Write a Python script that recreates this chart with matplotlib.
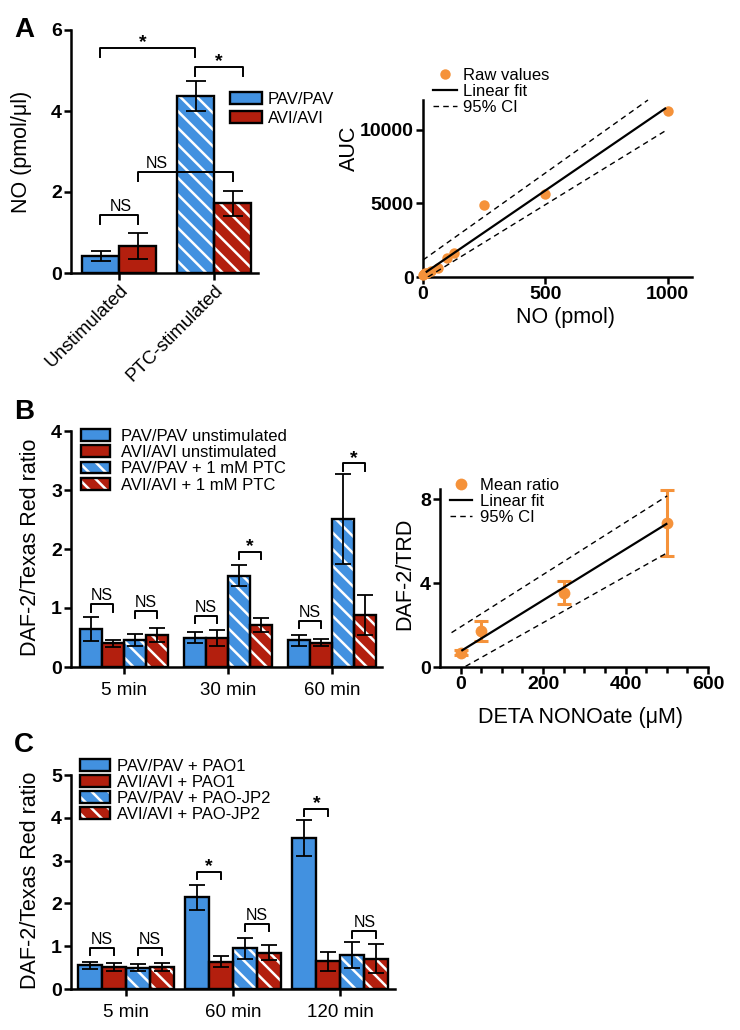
import numpy as np
import matplotlib
matplotlib.use("Agg")
import matplotlib.pyplot as plt
from matplotlib.patches import Patch
from matplotlib.lines import Line2D
from matplotlib.legend_handler import HandlerTuple

plt.rcParams['font.family'] = ['Liberation Sans', 'DejaVu Sans']
plt.rcParams['hatch.linewidth'] = 1.8

BLUE = "#4291e0"
RED = "#b31f0e"
ORANGE = "#f5923a"
HATCH = "\\\\"

# ---------------- data ----------------
# A, bars
a_groups = ["Unstimulated", "PTC-stimulated"]
a_pav = [0.42, 4.37]
a_pav_err = [0.13, 0.37]
a_avi = [0.67, 1.72]
a_avi_err = [0.32, 0.31]
# (x start, x end, height, label, label x)
a_brackets = [(-0.2, 0.8, 5.56, "*", 0.25), (0.8, 1.3, 5.09, "*", 1.05),
              (0.2, 1.2, 2.49, "NS", 0.39), (-0.2, 0.2, 1.43, "NS", 0.02)]

# A, standard curve
no_pmol = [0, 4, 8, 16, 31, 62, 100, 125, 250, 500, 1000]
auc = [120, 180, 250, 300, 420, 600, 1300, 1650, 4900, 5600, 11250]
a_fit_x = [15, 990]
a_fit_y = [360, 11420]
a_ci_up_x = [0, 920]
a_ci_up_y = [1150, 12000]
a_ci_lo_x = [20, 990]
a_ci_lo_y = [0, 9900]

# B, bars
b_groups = ["5 min", "30 min", "60 min"]
b_pav_unstim = [0.64, 0.50, 0.45]
b_pav_unstim_err = [0.20, 0.10, 0.10]
b_avi_unstim = [0.40, 0.49, 0.41]
b_avi_unstim_err = [0.06, 0.13, 0.06]
b_pav_ptc = [0.46, 1.55, 2.51]
b_pav_ptc_err = [0.10, 0.18, 0.76]
b_avi_ptc = [0.54, 0.71, 0.88]
b_avi_ptc_err = [0.12, 0.12, 0.34]
# (group, bar_i, bar_j, height, label)
b_brackets = [(0, 0, 1, 1.06, "NS"), (0, 2, 3, 0.95, "NS"),
              (1, 0, 1, 0.87, "NS"), (1, 2, 3, 1.95, "*"),
              (2, 0, 1, 0.78, "NS"), (2, 2, 3, 3.45, "*")]

# B, DETA NONOate calibration
deta = [0, 50, 250, 500]
ratio = [0.68, 1.70, 3.55, 6.88]
ratio_err = [0.12, 0.48, 0.54, 1.57]
b_fit_x = [4, 499]
b_fit_y = [0.80, 6.83]
b_ci_up_x = [-22, 501]
b_ci_up_y = [1.64, 8.17]
b_ci_lo_x = [12, 499]
b_ci_lo_y = [0.03, 5.43]

# C, bars
c_groups = ["5 min", "60 min", "120 min"]
c_pav_pao1 = [0.55, 2.14, 3.53]
c_pav_pao1_err = [0.09, 0.29, 0.42]
c_avi_pao1 = [0.51, 0.64, 0.65]
c_avi_pao1_err = [0.09, 0.12, 0.22]
c_pav_jp2 = [0.50, 0.95, 0.80]
c_pav_jp2_err = [0.09, 0.25, 0.30]
c_avi_jp2 = [0.51, 0.85, 0.71]
c_avi_jp2_err = [0.09, 0.18, 0.33]
c_brackets = [(0, 0, 1, 0.95, "NS"), (0, 2, 3, 0.95, "NS"),
              (1, 0, 1, 2.74, "*"), (1, 2, 3, 1.52, "NS"),
              (2, 0, 1, 4.21, "*"), (2, 2, 3, 1.36, "NS")]

# ---------------- helpers ----------------
W, H = 740, 1030
fig = plt.figure(figsize=(W / 100, H / 100), dpi=100)
TICK_FS = 14


def px_axes(left, top, right, bottom):
    return fig.add_axes([left / W, 1 - bottom / H, (right - left) / W, (bottom - top) / H])


def style_axes(ax):
    for s in ["top", "right"]:
        ax.spines[s].set_visible(False)
    for s in ["left", "bottom"]:
        ax.spines[s].set_linewidth(1.8)
    ax.tick_params(width=1.8, length=5, labelsize=TICK_FS, pad=1.5)


def bold_ticks(labels):
    for lab in labels:
        lab.set_fontweight("bold")


def draw_bars(ax, x, h, err, color, hatched, width, capsize):
    if hatched:
        ax.bar(x, h, width, color=color, edgecolor="white", hatch=HATCH, linewidth=0, zorder=2)
        ax.bar(x, h, width, fill=False, edgecolor="black", linewidth=1.7, zorder=3)
    else:
        ax.bar(x, h, width, color=color, edgecolor="black", linewidth=1.7, zorder=3)
    ax.errorbar(x, h, yerr=err, fmt="none", ecolor="black", elinewidth=1.3,
                capsize=capsize, capthick=1.3, zorder=4)


def bracket(ax, x1, x2, y, label, drop, label_x=None):
    ax.plot([x1, x1, x2, x2], [y - drop, y, y, y - drop], color="black", lw=1.4,
            clip_on=False, zorder=5)
    xc = (x1 + x2) / 2 if label_x is None else label_x
    if label == "*":
        ax.annotate("*", (xc, y), xytext=(0, 0.3), textcoords="offset points",
                    ha="center", va="baseline", fontsize=14, fontweight="bold")
    else:
        ax.annotate(label, (xc, y), xytext=(0, 3), textcoords="offset points",
                    ha="center", va="baseline", fontsize=11.5)


def bar_handle(color, hatched):
    if hatched:
        return (Patch(facecolor=color, edgecolor="white", hatch=HATCH, linewidth=0),
                Patch(facecolor="none", edgecolor="black", linewidth=1.7))
    return Patch(facecolor=color, edgecolor="black", linewidth=1.7)


def place_legend(ax, handles, labels, left_px, row1_px, hlen, hpad, spacing, hheight=0.72):
    leg = ax.legend(handles, labels, loc="upper left",
                    bbox_to_anchor=(left_px / W, 1 - (row1_px - 9.3) / H),
                    bbox_transform=fig.transFigure, frameon=False, fontsize=12,
                    borderpad=0, borderaxespad=0, handlelength=hlen,
                    handleheight=hheight, handletextpad=hpad, labelspacing=spacing,
                    handler_map={tuple: HandlerTuple(ndivide=1, pad=0)})
    return leg


# ---------------- A: bars ----------------
ax = px_axes(71, 30, 258, 273)
style_axes(ax)
wa = 0.39
xa = np.arange(len(a_groups))
draw_bars(ax, xa[:1] - wa / 2, a_pav[:1], a_pav_err[:1], BLUE, False, wa, 7)
draw_bars(ax, xa[:1] + wa / 2, a_avi[:1], a_avi_err[:1], RED, False, wa, 7)
draw_bars(ax, xa[1:] - wa / 2, a_pav[1:], a_pav_err[1:], BLUE, True, wa, 7)
draw_bars(ax, xa[1:] + wa / 2, a_avi[1:], a_avi_err[1:], RED, True, wa, 7)
for x1, x2, y, lab, lx in a_brackets:
    bracket(ax, x1, x2, y, lab, 0.22, lx)
ax.set_xlim(-0.51, 1.46)
ax.set_ylim(0, 6)
ax.set_yticks([0, 2, 4, 6])
ax.set_xticks(xa)
ax.set_xticklabels(a_groups, rotation=45, ha="right", va="top",
                   rotation_mode="anchor", fontsize=13.5)
bold_ticks(ax.get_yticklabels())
ax.set_ylabel("NO (pmol/μl)", fontsize=15.5, va="center")
ax.yaxis.set_label_coords(-0.267, 0.5)
place_legend(ax, [bar_handle(BLUE, False), bar_handle(RED, False)],
             ["PAV/PAV", "AVI/AVI"], 230, 101, 1.92, 0.36, 0.26)

# ---------------- A: standard curve ----------------
ax = px_axes(423, 100, 692, 277)
style_axes(ax)
ax.plot(no_pmol, auc, "o", color=ORANGE, ms=7.5, mec="none", clip_on=False, zorder=3)
ax.plot(a_fit_x, a_fit_y, "-", color="black", lw=1.6, zorder=4)
ax.plot(a_ci_up_x, a_ci_up_y, "--", color="black", lw=1.0, dashes=(4, 3), zorder=4, clip_on=False)
ax.plot(a_ci_lo_x, a_ci_lo_y, "--", color="black", lw=1.0, dashes=(4, 3), zorder=4)
ax.set_xlim(0, 1100)
ax.set_ylim(0, 12000)
ax.set_xticks([0, 500, 1000])
ax.set_yticks([0, 5000, 10000])
bold_ticks(ax.get_xticklabels() + ax.get_yticklabels())
ax.set_xlabel("NO (pmol)", fontsize=15.5, va="center")
ax.set_ylabel("AUC", fontsize=15.5, va="center")
ax.yaxis.set_label_coords((349 - 423) / 269, (277 - 148) / 177)
ax.xaxis.set_label_coords((565 - 423) / 269, -(317 - 277) / 177)
place_legend(ax,
             [Line2D([], [], ls="none", marker="o", color=ORANGE, ms=7.5, mec="none"),
              Line2D([], [], color="black", lw=1.6),
              Line2D([], [], color="black", lw=1.0, ls="--", dashes=(4, 3))],
             ["Raw values", "Linear fit", "95% CI"], 433, 77, 1.44, 0.36, 0.08)

# ---------------- B: bars ----------------
ax = px_axes(71, 431, 382, 667)
style_axes(ax)
wb = 0.212
xb = np.arange(len(b_groups))
b_series = [(b_pav_unstim, b_pav_unstim_err, BLUE, False),
            (b_avi_unstim, b_avi_unstim_err, RED, False),
            (b_pav_ptc, b_pav_ptc_err, BLUE, True),
            (b_avi_ptc, b_avi_ptc_err, RED, True)]
for i, (vals, errs, col, hat) in enumerate(b_series):
    draw_bars(ax, xb + (i - 1.5) * wb, vals, errs, col, hat, wb, 5.5)
for g, i, j, y, lab in b_brackets:
    bracket(ax, g + (i - 1.5) * wb, g + (j - 1.5) * wb, y, lab, 0.12)
ax.set_xlim(-0.51, 2.48)
ax.set_ylim(0, 4)
ax.set_yticks([0, 1, 2, 3, 4])
ax.set_xticks(xb)
ax.set_xticklabels(b_groups, fontsize=13.5)
ax.tick_params(axis="x", pad=6)
bold_ticks(ax.get_yticklabels())
ax.set_ylabel("DAF-2/Texas Red ratio", fontsize=15.5, va="center")
ax.yaxis.set_label_coords((31 - 71) / 311, (667 - 547) / 236)
place_legend(ax, [bar_handle(BLUE, False), bar_handle(RED, False),
                  bar_handle(BLUE, True), bar_handle(RED, True)],
             ["PAV/PAV unstimulated", "AVI/AVI unstimulated",
              "PAV/PAV + 1 mM PTC", "AVI/AVI + 1 mM PTC"],
             81, 438, 1.74, 0.66, 0.08)

# ---------------- B: calibration ----------------
ax = px_axes(440, 489, 708, 667)
style_axes(ax)
ax.errorbar(deta, ratio, yerr=ratio_err, fmt="o", color=ORANGE, ms=8.5, mec="none",
            elinewidth=2.2, capsize=5, capthick=2.2, zorder=3, clip_on=False)
ax.plot(b_fit_x, b_fit_y, "-", color="black", lw=1.6, zorder=4)
ax.plot(b_ci_up_x, b_ci_up_y, "--", color="black", lw=1.0, dashes=(4, 3), zorder=4)
ax.plot(b_ci_lo_x, b_ci_lo_y, "--", color="black", lw=1.0, dashes=(4, 3), zorder=4)
ax.set_xlim(-50, 600)
ax.set_ylim(0, 8.5)
ax.set_xticks([0, 200, 400, 600])
ax.set_xticks(np.arange(0, 601, 50), minor=True)
ax.tick_params(axis="x", which="minor", width=1.8, length=4)
ax.set_yticks([0, 4, 8])
bold_ticks(ax.get_xticklabels() + ax.get_yticklabels())
ax.set_xlabel("DETA NONOate (μM)", fontsize=15.5, va="center")
ax.xaxis.set_label_coords((580 - 440) / 268, -(718 - 667) / 178)
ax.set_ylabel("DAF-2/TRD", fontsize=15.5, va="center")
ax.yaxis.set_label_coords((405 - 440) / 268, (667 - 574) / 178)
place_legend(ax,
             [Line2D([], [], ls="none", marker="o", color=ORANGE, ms=8.5, mec="none"),
              Line2D([], [], color="black", lw=1.6),
              Line2D([], [], color="black", lw=1.0, ls="--", dashes=(4, 3))],
             ["Mean ratio", "Linear fit", "95% CI"], 450, 487, 1.32, 0.48, 0.07)

# ---------------- C: bars ----------------
ax = px_axes(71, 775, 395, 989)
style_axes(ax)
wc = 0.224
xc = np.arange(len(c_groups))
c_series = [(c_pav_pao1, c_pav_pao1_err, BLUE, False),
            (c_avi_pao1, c_avi_pao1_err, RED, False),
            (c_pav_jp2, c_pav_jp2_err, BLUE, True),
            (c_avi_jp2, c_avi_jp2_err, RED, True)]
for i, (vals, errs, col, hat) in enumerate(c_series):
    draw_bars(ax, xc + (i - 1.5) * wc, vals, errs, col, hat, wc, 6)
for g, i, j, y, lab in c_brackets:
    bracket(ax, g + (i - 1.5) * wc, g + (j - 1.5) * wc, y, lab, 0.16)
ax.set_xlim(-0.514, 2.51)
ax.set_ylim(0, 5)
ax.set_yticks([0, 1, 2, 3, 4, 5])
ax.set_xticks(xc)
ax.set_xticklabels(c_groups, fontsize=13.5)
ax.tick_params(axis="x", pad=6)
bold_ticks(ax.get_yticklabels())
ax.set_ylabel("DAF-2/Texas Red ratio", fontsize=15.5, va="center")
ax.yaxis.set_label_coords((31 - 71) / 324, (989 - 880) / 214)
place_legend(ax, [bar_handle(BLUE, False), bar_handle(RED, False),
                  bar_handle(BLUE, True), bar_handle(RED, True)],
             ["PAV/PAV + PAO1", "AVI/AVI + PAO1",
              "PAV/PAV + PAO-JP2", "AVI/AVI + PAO-JP2"],
             80, 768, 1.8, 0.42, 0.07)

# panel letters
for letter, xp, yp in [("A", 24, 30), ("B", 24, 412), ("C", 24, 745)]:
    fig.text(xp / W, 1 - yp / H, letter, fontsize=20, fontweight="bold",
             ha="center", va="center")

fig.savefig("out.png", dpi=100)
